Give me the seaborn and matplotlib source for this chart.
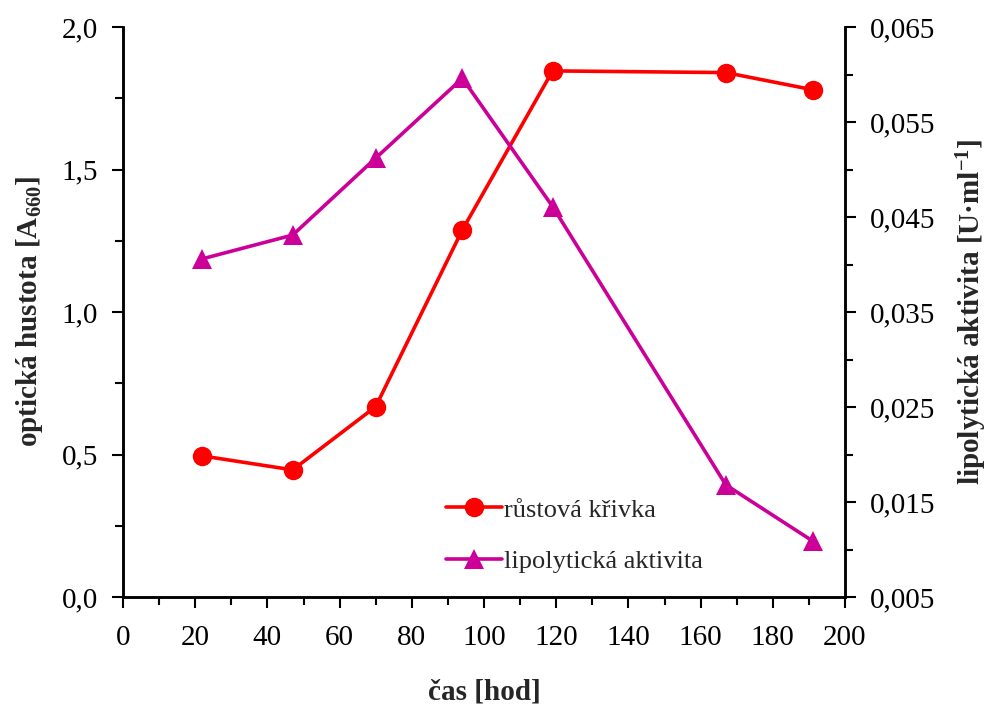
import matplotlib
matplotlib.use("Agg")
import matplotlib.pyplot as plt
import seaborn as sns
import pandas as pd
from matplotlib.ticker import MultipleLocator, FuncFormatter
from matplotlib.lines import Line2D

# time points [h]
cas = [22, 47, 70, 94, 119, 167, 191]
# optical density A660 (growth curve)
rust = [0.495, 0.446, 0.668, 1.288, 1.846, 1.840, 1.780]
# lipolytic activity [U/ml]
lipo = [0.0406, 0.0431, 0.0512, 0.0596, 0.0461, 0.0168, 0.0109]

label_rust = "růstová křivka"
label_lipo = "lipolytická aktivita"

sns.set_theme(style="ticks")
plt.rcParams["font.family"] = ["Liberation Serif", "DejaVu Serif"]
plt.rcParams["mathtext.fontset"] = "custom"
plt.rcParams["mathtext.rm"] = "Liberation Serif"
plt.rcParams["mathtext.bf"] = "Liberation Serif:bold"
plt.rcParams["mathtext.it"] = "Liberation Serif:italic"

RED = "#FF0000"
MAG = "#CC0099"

df = pd.DataFrame({"cas": cas, "rust": rust, "lipo": lipo})

fig = plt.figure(figsize=(9.9, 7.09), dpi=100)
ax = fig.add_axes([123 / 990, 1 - 597 / 709, (845 - 123) / 990, (597 - 27) / 709])
ax2 = ax.twinx()

sns.lineplot(data=df, x="cas", y="rust", ax=ax, color=RED, marker="o",
             markersize=14, linewidth=2.6, markeredgewidth=0, zorder=3)
sns.lineplot(data=df, x="cas", y="lipo", ax=ax2, color=MAG, marker="^",
             markersize=15, linewidth=2.6, markeredgewidth=0, zorder=3)

ax.set_xlim(0, 200)
ax.set_ylim(0, 2.0)
ax2.set_ylim(0.005, 0.065)

def comma(decimals):
    return FuncFormatter(lambda v, p: f"{v:.{decimals}f}".replace(".", ","))

ax.xaxis.set_major_locator(MultipleLocator(20))
ax.xaxis.set_minor_locator(MultipleLocator(10))
ax.yaxis.set_major_locator(MultipleLocator(0.5))
ax.yaxis.set_minor_locator(MultipleLocator(0.25))
ax.yaxis.set_major_formatter(comma(1))
ax2.set_yticks([0.005, 0.015, 0.025, 0.035, 0.045, 0.055, 0.065])
ax2.yaxis.set_minor_locator(MultipleLocator(0.005))
ax2.yaxis.set_major_formatter(comma(3))

for a in (ax, ax2):
    a.tick_params(axis="both", which="major", direction="out", length=8,
                  width=1.5, labelsize=21, pad=10, colors="black")
    a.tick_params(axis="both", which="minor", direction="out", length=6,
                  width=1.5, colors="black")
    for s in a.spines.values():
        s.set_linewidth(1.8)
        s.set_color("black")
    a.spines["top"].set_visible(False)
    a.grid(False)

ax.tick_params(axis="x", pad=12)

ax.set_xlabel("čas [hod]", fontsize=21, fontweight="bold", labelpad=20)
ax.set_ylabel(r"optická hustota [A$_{\mathbf{660}}$]", fontsize=21,
              fontweight="bold", labelpad=12)
ax2.set_ylabel(r"lipolytická aktivita [U·ml$^{\mathbf{-1}}$]", fontsize=21,
               fontweight="bold", labelpad=14)

handles = [
    Line2D([], [], color=RED, marker="o", markersize=14, linewidth=2.6,
           markeredgewidth=0),
    Line2D([], [], color=MAG, marker="^", markersize=15, linewidth=2.6,
           markeredgewidth=0),
]
ax.legend(handles, [label_rust, label_lipo], loc="lower left",
          bbox_to_anchor=(0.433, 0.024), frameon=False, fontsize=19,
          handlelength=2.1, handletextpad=0.1, labelspacing=1.05,
          borderaxespad=0)

fig.savefig("out.png", dpi=100)
